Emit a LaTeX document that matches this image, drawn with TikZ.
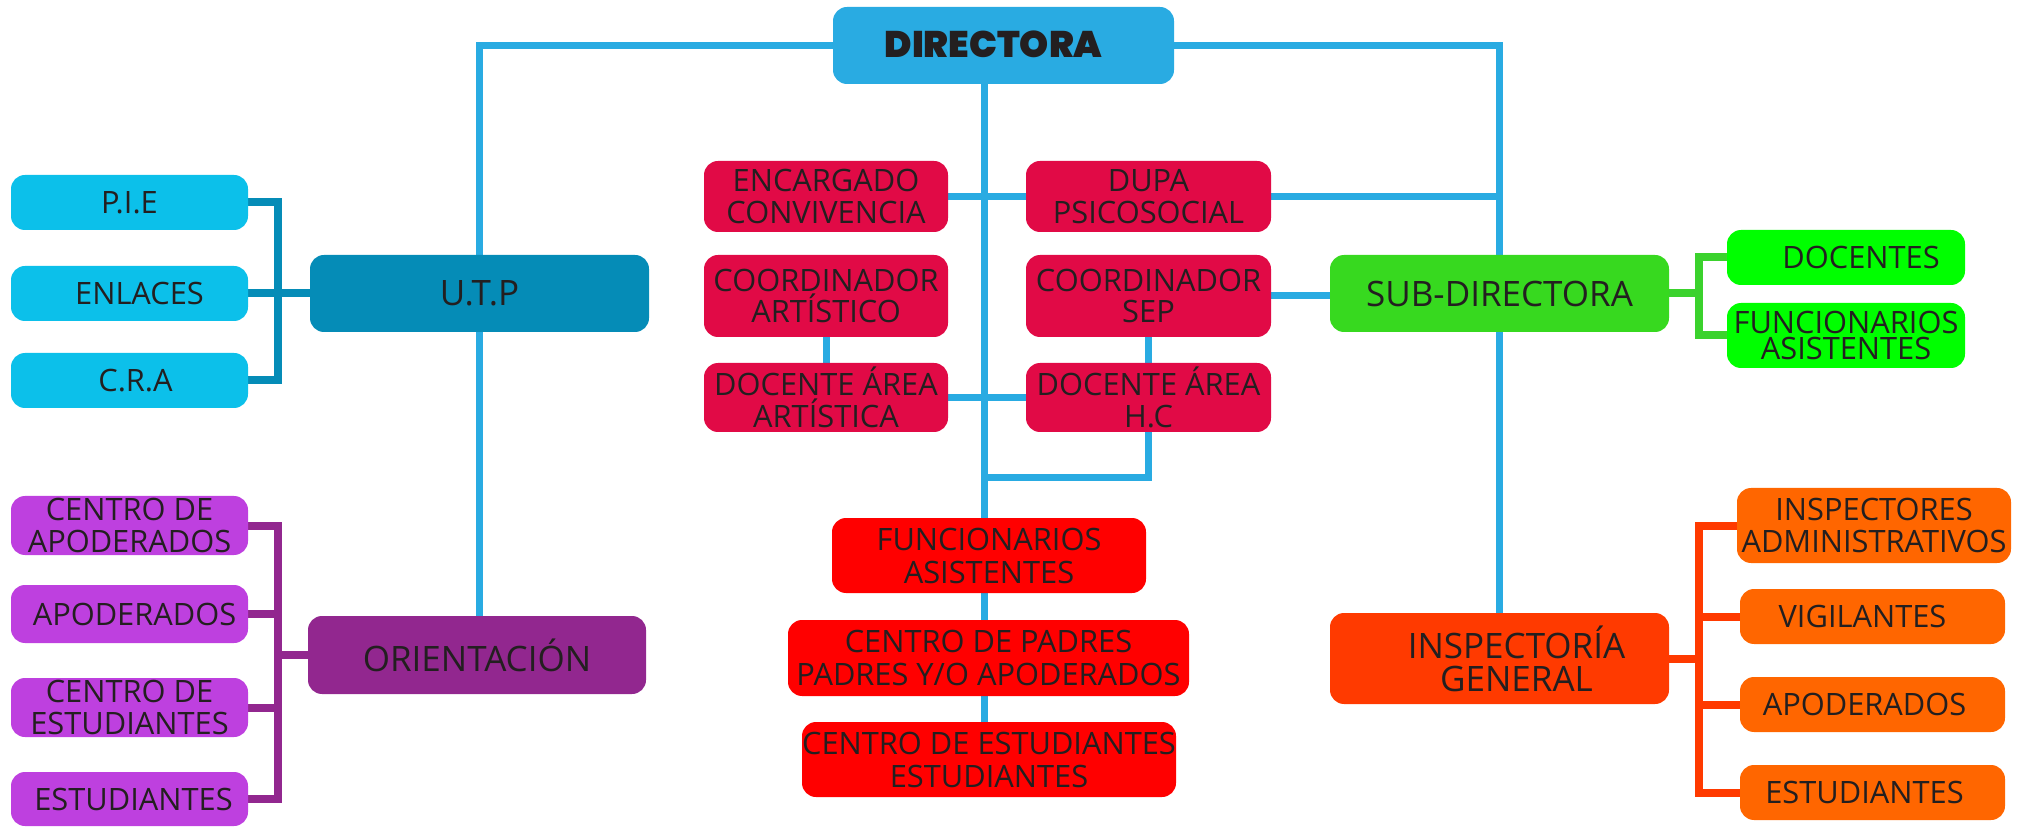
\documentclass[tikz,border=0pt]{standalone}
\usepackage{fontspec}
\setmainfont{Open Sans}
\newfontfamily\titlefont{Poppins Black}
\usetikzlibrary{backgrounds}

\begin{document}
\begin{tikzpicture}[x=0.5pt,y=0.5pt,yscale=-1,xscale=1,
  boxsize/.style 2 args={minimum width=#1*0.5pt,minimum height=#2*0.5pt},
  orgbox/.style={rounded corners=7pt,inner sep=0pt,align=center,
    text={rgb, 255:red, 35; green, 31; blue, 32 },font=\fontsize{15.4}{15.8}\selectfont},
  bigbox/.style={orgbox,font=\fontsize{17.5}{16.5}\selectfont},
  dirbox/.style={orgbox,fill={rgb, 255:red, 41; green, 171; blue, 226 },font=\titlefont\fontsize{18.5}{20}\selectfont},
  utpbox/.style={bigbox,fill={rgb, 255:red, 5; green, 140; blue, 183 }},
  utpsub/.style={orgbox,fill={rgb, 255:red, 12; green, 192; blue, 234 }},
  crimbox/.style={orgbox,fill={rgb, 255:red, 225; green, 10; blue, 70 }},
  redbox/.style={orgbox,fill={rgb, 255:red, 255; green, 0; blue, 0 },font=\fontsize{15.4}{16.5}\selectfont},
  sdbox/.style={bigbox,fill={rgb, 255:red, 55; green, 217; blue, 31 }},
  sdsub/.style={orgbox,fill={rgb, 255:red, 0; green, 255; blue, 0 }},
  oribox/.style={bigbox,fill={rgb, 255:red, 146; green, 39; blue, 143 }},
  orisub/.style={orgbox,fill={rgb, 255:red, 190; green, 64; blue, 223 }},
  igbox/.style={bigbox,fill={rgb, 255:red, 255; green, 58; blue, 0 }},
  igsub/.style={orgbox,fill={rgb, 255:red, 255; green, 102; blue, 0 }},
  mainline/.style={draw={rgb, 255:red, 41; green, 171; blue, 226 },line width=3.5pt},
  utpline/.style={draw={rgb, 255:red, 5; green, 140; blue, 183 },line width=4pt},
  oriline/.style={draw={rgb, 255:red, 146; green, 39; blue, 143 },line width=4pt},
  sdline/.style={draw={rgb, 255:red, 59; green, 210; blue, 45 },line width=4pt},
  igline/.style={draw={rgb, 255:red, 255; green, 58; blue, 0 },line width=4pt}]
\useasboundingbox (0,0) rectangle (2024,828);

%Shape: Rounded Rect -- top
\node[dirbox,boxsize={341}{77}] (dir) at (1003.5,45.5) {\raisebox{1.6pt}{DIRECTORA}\hspace{10pt}};

%Shape: Rounded Rect -- U.T.P branch
\node[utpbox,boxsize={339}{77}] (utp) at (479.5,293.5) {U.T.P};
\node[utpsub,boxsize={237}{55}] (pie) at (129.5,202.5) {P.I.E};
\node[utpsub,boxsize={237}{55}] (enl) at (129.5,293.5) {\hspace{10pt}ENLACES};
\node[utpsub,boxsize={237}{55}] (cra) at (129.5,380.5) {\hspace{6pt}C.R.A};

%Shape: Rounded Rect -- orientacion branch
\node[oribox,boxsize={338}{78}] (ori) at (477,655) {ORIENTACIÓN};
\node[orisub,boxsize={237}{59}] (cda) at (129.5,525.5) {CENTRO DE\\APODERADOS};
\node[orisub,boxsize={237}{58}] (apo) at (129.5,614) {\hspace{5pt}APODERADOS};
\node[orisub,boxsize={237}{59}] (cde) at (129.5,707.5) {CENTRO DE\\ESTUDIANTES};
\node[orisub,boxsize={237}{54}] (est) at (129.5,799) {\hspace{4pt}ESTUDIANTES};

%Shape: Rounded Rect -- middle column
\node[crimbox,boxsize={244}{71}] (enc) at (826,196.5) {ENCARGADO\\CONVIVENCIA};
\node[crimbox,boxsize={245}{71}] (dupa) at (1148.5,196.5) {DUPA\\PSICOSOCIAL};
\node[crimbox,boxsize={244}{82}] (coa) at (826,296) {COORDINADOR\\ARTÍSTICO};
\node[crimbox,boxsize={245}{82}] (sep) at (1148.5,296) {COORDINADOR\\SEP};
\node[crimbox,boxsize={244}{69}] (daa) at (826,397.5) {DOCENTE ÁREA\\ARTÍSTICA};
\node[crimbox,boxsize={245}{69}] (dahc) at (1148.5,397.5) {DOCENTE ÁREA\\H.C};
\node[redbox,boxsize={314}{75}] (fa) at (989,555.5) {FUNCIONARIOS\\ASISTENTES};
\node[redbox,boxsize={401}{76}] (cp) at (988.5,658) {CENTRO DE PADRES\\PADRES Y/O APODERADOS};
\node[redbox,boxsize={374}{75}] (ce) at (989,759.5) {CENTRO DE ESTUDIANTES\\ESTUDIANTES};

%Shape: Rounded Rect -- sub-directora branch
\node[sdbox,boxsize={339}{77}] (sd) at (1499.5,293.5) {SUB-DIRECTORA};
\node[sdsub,boxsize={238}{55}] (doc) at (1846,257.5) {\hspace{15pt}DOCENTES};
\node[sdsub,boxsize={238}{65},font=\fontsize{15.4}{13}\selectfont] (fun) at (1846,335.5) {FUNCIONARIOS\\ASISTENTES};

%Shape: Rounded Rect -- inspectoria branch
\node[igbox,boxsize={339}{91}] (ig) at (1499.5,658.5) {\hspace*{17pt}INSPECTORÍA\\\hspace*{17pt}GENERAL};
\node[igsub,boxsize={274}{75}] (ia) at (1874,525.5) {INSPECTORES\\ADMINISTRATIVOS};
\node[igsub,boxsize={265}{55}] (vig) at (1872.5,616.5) {VIGILANTES\hspace{10pt}};
\node[igsub,boxsize={265}{55}] (iapo) at (1872.5,704.5) {APODERADOS\hspace{8pt}};
\node[igsub,boxsize={265}{55}] (iest) at (1872.5,792.5) {ESTUDIANTES\hspace{8pt}};

\coordinate (trunk) at (984,84);
\coordinate (hcjoin) at (984,478);
\coordinate (utpbus) at (278,293.5);
\coordinate (oribus) at (278,655);
\coordinate (sdbus) at (1699,293.5);
\coordinate (igbus) at (1699,658.5);

\begin{scope}[on background layer]
%Straight Lines -- blue
\draw[mainline] (trunk) -- (trunk |- ce.north);
\draw[mainline] (dir.west) -| (utp.north);
\draw[mainline] (utp.south) -- (utp.south |- ori.north);
\draw[mainline] (dir.east) -| (ig.north);
\draw[mainline] (enc.east) -- (dupa.west);
\draw[mainline] (dupa.east) -- (dupa.east -| ig.north);
\draw[mainline] (coa.south) -- (daa.north);
\draw[mainline] (sep.south) -- (dahc.north);
\draw[mainline] (daa.east) -- (dahc.west);
\draw[mainline] (sep.east) -- (sep.east -| sd.west);
\draw[mainline] (dahc.south) |- (hcjoin);
%Straight Lines -- brackets
\draw[utpline] (pie.east) -| (utpbus) |- (cra.east);
\draw[utpline] (enl.east) -- (utp.west);
\draw[oriline] (cda.east) -| (oribus) |- (est.east);
\draw[oriline] (apo.east) -| (oribus) |- (cde.east);
\draw[oriline] (ori.west) -- (oribus);
\draw[sdline] (doc.west) -| (sdbus) |- (fun.west);
\draw[sdline] (sd.east) -- (sdbus);
\draw[igline] (ia.west) -| (igbus) |- (iest.west);
\draw[igline] (vig.west) -| (igbus) |- (iapo.west);
\draw[igline] (ig.east) -- (igbus);
\end{scope}

\end{tikzpicture}
\end{document}
